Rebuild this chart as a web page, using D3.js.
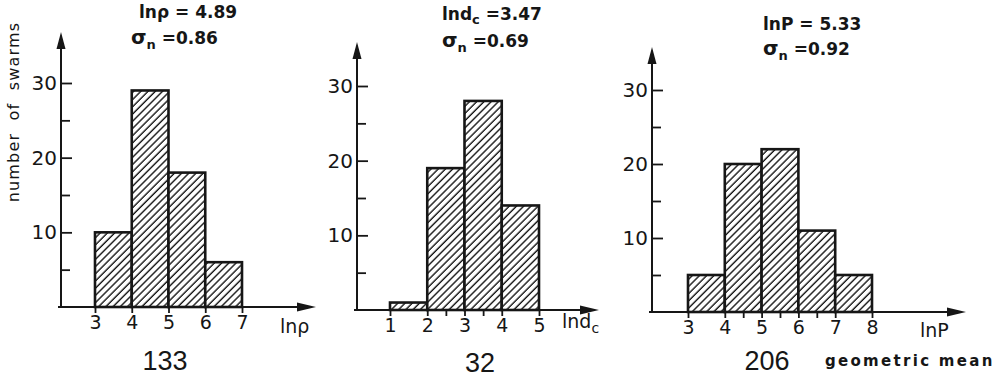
<!DOCTYPE html>
<html>
<head>
<meta charset="utf-8">
<script src="https://cdn.jsdelivr.net/npm/d3@7"></script>
<style>
  body { margin: 0; background: #fff; }
  svg { display: block; }
</style>
</head>
<body>
<div id="chart"></div>
<script>
// Page size
const width = 999
const height = 379
const ink = '#161616'

// Data - bin edges and number of swarms in each bin
const rhoEdges = [3, 4, 5, 6, 7]
const rhoCounts = [10, 29, 18, 6]
const dcEdges = [1, 2, 3, 4, 5]
const dcCounts = [1, 19, 28, 14]
const pEdges = [3, 4, 5, 6, 7, 8]
const pCounts = [5, 20, 22, 11, 5]

// Tick labels
const yMajor = [10, 20, 30]
const yMinor = [5, 15, 25]
const rhoTicks = [3, 4, 5, 6, 7]
const dcTicks = [1, 2, 3, 4, 5]
const pTicks = [3, 4, 5, 6, 7, 8]
const dcMinor = [2.5, 3.5]
const pMinor = [4.5, 5.5, 6.5]

// Texts
const means = ['4.89', '3.47', '5.33']
const sigmas = ['0.86', '0.69', '0.92']
const totals = ['133', '32', '206']

// Layout of each panel (pixels)
const panels = [
    { edges: rhoEdges, counts: rhoCounts, ticks: rhoTicks, minor: [],
      axisX: 61, base: 307, top30: 83, arrowTop: 32, axisEnd: 316, px: [95, 242],
      title: { x: 139, y1: 18, y2: 44, sx: 131, sym: 'lnρ', eq: ' = ' + means[0], sig: sigmas[0] },
      label: { x: 280, y: 333, main: 'lnρ', sub: '' },
      total: { x: 165, y: 370, text: totals[0] } },
    { edges: dcEdges, counts: dcCounts, ticks: dcTicks, minor: dcMinor,
      axisX: 357, base: 310, top30: 86, arrowTop: 42, axisEnd: 599, px: [390, 539],
      title: { x: 442, y1: 20, y2: 47, sx: 442, sym: 'lnd', symSub: 'c', eq: ' =' + means[1], sig: sigmas[1] },
      label: { x: 562, y: 328, main: 'lnd', sub: 'c' },
      total: { x: 480, y: 372, text: totals[1] } },
    { edges: pEdges, counts: pCounts, ticks: pTicks, minor: pMinor,
      axisX: 652, base: 312, top30: 90, arrowTop: 47, axisEnd: 966, px: [688, 872],
      title: { x: 763, y1: 30, y2: 55, sx: 763, sym: 'lnP', eq: ' = ' + means[2], sig: sigmas[2] },
      label: { x: 920, y: 337, main: 'lnP', sub: '' },
      total: { x: 767, y: 370, text: totals[2] } }
]

const svg = d3.select('#chart')
    .append('svg')
    .attr('width', width)
    .attr('height', height)

svg.append('rect').attr('width', width).attr('height', height).attr('fill', '#fff')

// Hatch pattern for the bars
const hs = 5.1
const pattern = svg.append('defs')
    .append('pattern')
    .attr('id', 'hatch')
    .attr('patternUnits', 'userSpaceOnUse')
    .attr('width', hs)
    .attr('height', hs)
    .attr('patternTransform', 'rotate(45)')
pattern.append('rect').attr('width', hs).attr('height', hs).attr('fill', '#fff')
pattern.append('line')
    .attr('x1', 1).attr('y1', 0).attr('x2', 1).attr('y2', hs)
    .attr('stroke', ink).attr('stroke-width', 1.4)

const font = 'DejaVu Sans, sans-serif'

// Y axis title
svg.append('text')
    .attr('transform', 'translate(19, 112) rotate(-90)')
    .attr('text-anchor', 'middle')
    .style('font-family', font)
    .style('font-size', '16px')
    .style('letter-spacing', '1.2px')
    .style('word-spacing', '6px')
    .attr('fill', ink)
    .text('number of swarms')

panels.forEach(p => {
    const x = d3.scaleLinear()
        .domain([p.ticks[0], p.ticks[p.ticks.length - 1]])
        .range(p.px)
    const y = d3.scaleLinear()
        .domain([0, 30])
        .range([p.base, p.top30])

    const g = svg.append('g')

    // bars
    const bins = p.counts.map((c, i) => ({ x0: p.edges[i], x1: p.edges[i + 1], n: c }))
    g.selectAll('rect.bar')
        .data(bins)
        .join('rect')
        .attr('class', 'bar')
        .attr('x', d => x(d.x0))
        .attr('y', d => y(d.n))
        .attr('width', d => x(d.x1) - x(d.x0))
        .attr('height', d => y(0) - y(d.n))
        .attr('fill', 'url(#hatch)')
        .attr('stroke', ink)
        .attr('stroke-width', 2.6)

    // y axis: major and minor ticks pointing inwards
    const yAxisG = g.append('g')
        .attr('transform', `translate(${p.axisX},0)`)
        .call(d3.axisLeft(y).tickValues(yMajor).tickFormat(d3.format('d'))
            .tickSizeInner(-11).tickSizeOuter(0).tickPadding(4))
    const yMinorG = g.append('g')
        .attr('transform', `translate(${p.axisX},0)`)
        .call(d3.axisLeft(y).tickValues(yMinor).tickFormat('').tickSizeInner(-9).tickSizeOuter(0))

    // x axis
    const xAxisG = g.append('g')
        .attr('transform', `translate(0,${p.base})`)
        .call(d3.axisBottom(x).tickValues(p.ticks).tickFormat(d3.format('d'))
            .tickSizeInner(6).tickSizeOuter(0).tickPadding(3))
    const xMinorG = g.append('g')
        .attr('transform', `translate(0,${p.base})`)
        .call(d3.axisBottom(x).tickValues(p.minor).tickFormat('').tickSizeInner(6).tickSizeOuter(0))

    ;[yAxisG, yMinorG, xAxisG, xMinorG].forEach(a => {
        a.select('.domain').remove()
        a.selectAll('.tick line').attr('stroke', ink).attr('stroke-width', 1.8)
    })
    yAxisG.selectAll('text')
        .style('font-family', font).style('font-size', '20px').attr('fill', ink)
    xAxisG.selectAll('text')
        .style('font-family', font).style('font-size', '19px').attr('fill', ink)

    // axis lines with arrows
    g.append('line')
        .attr('x1', p.axisX).attr('y1', p.base + 1)
        .attr('x2', p.axisX).attr('y2', p.arrowTop + 10)
        .attr('stroke', ink).attr('stroke-width', 2)
    g.append('path')
        .attr('d', `M${p.axisX},${p.arrowTop} L${p.axisX - 4.5},${p.arrowTop + 17} L${p.axisX + 4.5},${p.arrowTop + 17} Z`)
        .attr('fill', ink)
    g.append('line')
        .attr('x1', p.axisX - 3).attr('y1', p.base)
        .attr('x2', p.axisEnd - 10).attr('y2', p.base)
        .attr('stroke', ink).attr('stroke-width', 2)
    g.append('path')
        .attr('d', `M${p.axisEnd},${p.base} L${p.axisEnd - 19},${p.base - 4.5} L${p.axisEnd - 19},${p.base + 4.5} Z`)
        .attr('fill', ink)

    // axis name
    const lab = g.append('text')
        .attr('x', p.label.x).attr('y', p.label.y)
        .style('font-family', font).style('font-size', '19px').attr('fill', ink)
    lab.append('tspan').text(p.label.main)
    if (p.label.sub) {
        lab.append('tspan').attr('dy', 5).style('font-size', '14px').text(p.label.sub)
    }

    // statistics
    const t1 = g.append('text')
        .attr('x', p.title.x).attr('y', p.title.y1)
        .style('font-family', font).style('font-size', '17px').style('font-weight', 'bold')
        .attr('fill', ink)
    t1.append('tspan').text(p.title.sym)
    if (p.title.symSub) {
        t1.append('tspan').attr('dy', 4).style('font-size', '13px').text(p.title.symSub)
        t1.append('tspan').attr('dy', -4).text(p.title.eq)
    } else {
        t1.append('tspan').text(p.title.eq)
    }
    const t2 = g.append('text')
        .attr('x', p.title.sx).attr('y', p.title.y2)
        .style('font-family', font).style('font-size', '17px').style('font-weight', 'bold')
        .attr('fill', ink)
    t2.append('tspan').style('font-size', '20px').text('σ')
    t2.append('tspan').attr('dy', 5).style('font-size', '13px').text('n')
    t2.append('tspan').attr('dy', -5).text(' =' + p.title.sig)

    // sample size
    g.append('text')
        .attr('x', p.total.x).attr('y', p.total.y)
        .attr('text-anchor', 'middle')
        .style('font-family', 'Liberation Sans, sans-serif').style('font-size', '27px')
        .attr('fill', ink)
        .text(p.total.text)
})

svg.append('text')
    .attr('x', 825).attr('y', 366)
    .style('font-family', font).style('font-size', '15px').style('font-weight', 'bold')
    .style('letter-spacing', '2.3px')
    .attr('fill', ink)
    .text('geometric mean')
</script>
</body>
</html>
